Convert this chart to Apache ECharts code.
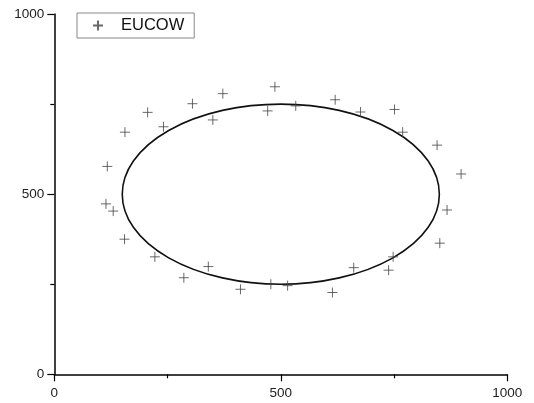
<!DOCTYPE html>
<html>
<head>
<meta charset="utf-8">
<script src="https://cdn.jsdelivr.net/npm/echarts@6/dist/echarts.min.js"></script>
<style>
  html, body { margin: 0; padding: 0; background: #fff; }
  #chart { width: 534px; height: 403px; }
</style>
</head>
<body>
<div id="chart"></div>
<script>
// Observed EUCOW positions
const eucowX = [114, 130, 117, 156, 206, 241, 305, 350, 372, 471, 487, 533, 620, 676, 751,
                769, 845, 898, 155, 222, 286, 340, 411, 478, 515, 614, 661, 738, 748, 851, 867];
const eucowY = [473, 453, 577, 672, 727, 687, 751, 706, 779, 731, 798, 745, 762, 728, 735,
                672, 636, 556, 375, 326, 268, 299, 236, 250, 246, 227, 296, 289, 326, 364, 456];

// Fitted ellipse: centre x, centre y, semi-axis x, semi-axis y
const ellipseFit = [500, 500, 350, 250];

// Axis ticks
const xTicks = [0, 500, 1000];
const yTicks = [0, 500, 1000];

const points = eucowX.map((x, i) => [x, eucowY[i]]);
const crossIcon = 'path://M0,5L10,5M5,0L5,10';
const font = 'Liberation Sans, Arial, sans-serif';

const axisCommon = {
  type: 'value',
  min: 0,
  max: 1000,
  interval: 500,
  splitLine: { show: false },
  axisLine: { show: true, onZero: false, lineStyle: { color: '#000', width: 1.5 } },
  axisTick: { show: true, inside: false, length: 7, lineStyle: { color: '#000', width: 1.2 } },
  minorTick: { show: true, splitNumber: 2, length: 4, lineStyle: { color: '#000', width: 1.2 } },
  axisLabel: { color: '#222', fontSize: 13.5, fontFamily: font, margin: 10 }
};

const chart = echarts.init(document.getElementById('chart'), null, { renderer: 'canvas' });
chart.setOption({
  animation: false,
  backgroundColor: '#fff',
  grid: { left: 54.3, right: 26.7, top: 14, bottom: 28.7 },
  xAxis: Object.assign({}, axisCommon, {
    axisLabel: Object.assign({}, axisCommon.axisLabel, {
      margin: 12,
      formatter: v => (xTicks.includes(v) ? String(v) : '')
    })
  }),
  yAxis: Object.assign({}, axisCommon, {
    axisLabel: Object.assign({}, axisCommon.axisLabel, {
      formatter: v => (yTicks.includes(v) ? String(v) : '')
    })
  }),
  legend: {
    left: 77,
    top: 13,
    orient: 'horizontal',
    padding: [4, 10, 4, 15],
    borderColor: '#888',
    borderWidth: 1,
    itemWidth: 10,
    itemHeight: 10,
    textStyle: { fontSize: 16.5, fontFamily: font, color: '#111', padding: [1, 0, 0, 13] },
    data: [{ name: 'EUCOW', icon: crossIcon }]
  },
  series: [
    {
      name: 'ellipse',
      type: 'custom',
      silent: true,
      data: [ellipseFit],
      renderItem: function (params, api) {
        const c = api.coord([api.value(0), api.value(1)]);
        const s = api.size([api.value(2), api.value(3)]);
        const rx = s[0], ry = s[1];
        const d = 'M' + (c[0] - rx) + ',' + c[1] +
                  'A' + rx + ',' + ry + ',0,1,0,' + (c[0] + rx) + ',' + c[1] +
                  'A' + rx + ',' + ry + ',0,1,0,' + (c[0] - rx) + ',' + c[1] + 'Z';
        return {
          type: 'path',
          shape: { pathData: d },
          style: { fill: 'none', stroke: '#111', lineWidth: 1.6 }
        };
      },
      encode: { x: 0, y: 1 },
      z: 2
    },
    {
      name: 'EUCOW',
      type: 'scatter',
      data: points,
      symbol: crossIcon,
      symbolSize: 10,
      itemStyle: { color: 'rgba(0,0,0,0)', borderColor: '#444', borderWidth: 1 },
      z: 3
    }
  ]
});
</script>
</body>
</html>
